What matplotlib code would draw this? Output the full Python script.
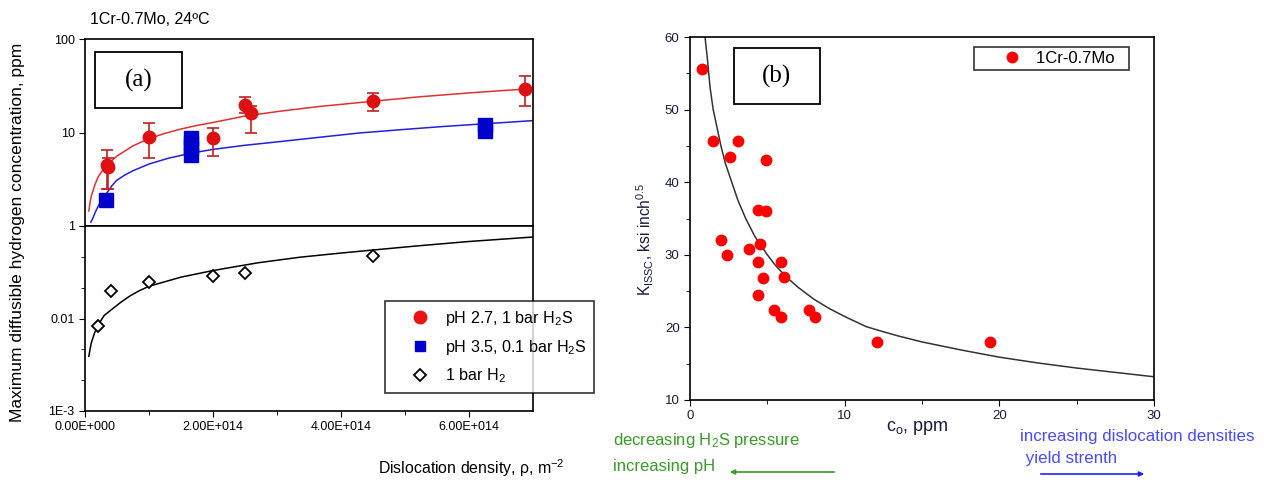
import matplotlib
matplotlib.use("Agg")
import matplotlib.pyplot as plt
from matplotlib.patches import Rectangle
from matplotlib.ticker import FixedLocator, NullLocator, NullFormatter

plt.rcParams['font.family'] = ['Liberation Sans', 'DejaVu Sans']
plt.rcParams['mathtext.default'] = 'regular'

# ---- panel (a) data: dislocation density (m^-2) vs max diffusible H (ppm) ----
red_x = [0.34e14, 0.36e14, 1.0e14, 2.0e14, 2.5e14, 2.6e14, 4.5e14, 6.88e14]
red_y = [4.5, 4.3, 9.0, 8.7, 19.5, 16.0, 21.6, 29.0]
red_lo = [2.0, 1.8, 3.6, 3.1, 3.5, 6.0, 4.7, 10.0]
red_hi = [2.0, 1.0, 3.5, 2.6, 4.5, 3.0, 4.8, 11.6]

blue_x = [0.33e14, 1.65e14, 1.65e14, 1.65e14, 1.65e14, 6.25e14, 6.25e14]
blue_y = [1.9, 5.8, 6.8, 7.8, 8.8, 10.5, 12.0]

h2_x = [0.2e14, 0.41e14, 1.0e14, 2.0e14, 2.5e14, 4.5e14]
h2_y = [0.0082, 0.0197, 0.025, 0.029, 0.031, 0.047]

# fitted curves
red_fit_x = [0.06e14, 0.08e14, 0.1e14, 0.15e14, 0.2e14, 0.27e14, 0.34e14, 0.5e14, 0.75e14,
             1.0e14, 1.25e14, 1.5e14, 1.75e14, 2.0e14, 2.5e14, 3.05e14, 3.67e14, 4.1e14,
             4.5e14, 5.2e14, 6.0e14, 6.5e14, 7.0e14]
red_fit_y = [1.45, 1.8, 2.1, 2.7, 3.3, 3.9, 4.5, 5.6, 7.2, 8.6, 9.8, 10.9, 11.9, 12.8, 15.0,
             16.9, 19.0, 20.3, 21.6, 24.0, 26.5, 28.0, 29.5]

blue_fit_x = [0.09e14, 0.12e14, 0.16e14, 0.2e14, 0.26e14, 0.33e14, 0.42e14, 0.5e14, 0.62e14,
              0.75e14, 1.0e14, 1.3e14, 1.65e14, 2.0e14, 2.5e14, 3.05e14, 3.67e14, 4.3e14,
              5.0e14, 5.6e14, 6.25e14, 7.0e14]
blue_fit_y = [1.1, 1.2, 1.4, 1.6, 1.9, 2.2, 2.7, 3.1, 3.5, 3.9, 4.6, 5.3, 6.0, 6.6, 7.3, 8.0,
              8.9, 9.9, 10.8, 11.6, 12.4, 13.4]

h2_fit_x = [0.06e14, 0.08e14, 0.1e14, 0.15e14, 0.2e14, 0.3e14, 0.44e14, 0.55e14, 0.7e14,
            0.85e14, 1.0e14, 1.25e14, 1.5e14, 2.0e14, 2.7e14, 3.36e14, 4.0e14, 4.5e14,
            5.2e14, 6.0e14, 7.0e14]
h2_fit_y = [0.0039, 0.0047, 0.0055, 0.007, 0.0084, 0.0108, 0.0129, 0.0148, 0.0175, 0.020,
            0.0223, 0.025, 0.028, 0.033, 0.040, 0.046, 0.051, 0.055, 0.061, 0.068, 0.076]

x_ticks = [0, 2e14, 4e14, 6e14]
x_tick_labels = ['0.00E+000', '2.00E+014', '4.00E+014', '6.00E+014']

# ---- panel (b) data: c_o (ppm) vs K_ISSC ----
k_c = [0.8, 1.5, 3.1, 2.6, 4.9, 4.4, 4.9, 2.0, 3.8, 4.5, 2.4, 4.4, 5.9, 4.7, 6.1, 4.4,
       5.4, 5.9, 7.7, 8.1, 12.1, 19.4]
k_val = [55.6, 45.7, 45.7, 43.5, 43.0, 36.2, 36.0, 32.0, 30.8, 31.5, 30.0, 29.0, 29.0,
         26.8, 27.0, 24.4, 22.4, 21.5, 22.4, 21.5, 18.0, 18.0]
k_fit_c = [0.97, 1.1, 1.3, 1.5, 1.75, 2.0, 2.3, 2.7, 3.1, 3.6, 4.2, 5.0, 5.5, 6.2, 7.0, 8.0,
           9.0, 10.0, 11.4, 12.5, 13.5, 15.0, 17.5, 20.0, 22.5, 25.0, 27.5, 30.0]
k_fit_val = [60.0, 57.5, 53.0, 50.0, 47.5, 45.0, 42.5, 40.0, 37.5, 35.0, 32.5, 30.0, 28.6,
             27.0, 25.5, 23.9, 22.6, 21.5, 20.1, 19.4, 18.8, 18.0, 16.9, 15.9, 15.1, 14.4,
             13.8, 13.2]

W, H = 1264, 480
fig = plt.figure(figsize=(W / 100, H / 100), dpi=100)


def fx(px):
    return px / W


def fy(py):
    return 1 - py / H


def label_box(x0, y0, x1, y1, txt):
    fig.add_artist(Rectangle((fx(x0), fy(y1)), fx(x1) - fx(x0), fy(y0) - fy(y1),
                             transform=fig.transFigure, fc='white', ec='black', lw=1.3,
                             zorder=5))
    fig.text(fx((x0 + x1) / 2), fy((y0 + y1) / 2), txt, fontsize=18,
             family='Liberation Serif', ha='center', va='center', zorder=6)


RED = '#dd1111'
BLUE = '#0000cc'

# top half of (a)
ax_t = fig.add_axes([fx(85), fy(226), fx(533) - fx(85), fy(39) - fy(226)])
ax_t.set_yscale('log')
ax_t.set_xlim(0, 7e14)
ax_t.set_ylim(1, 100)
ax_t.plot(red_fit_x, red_fit_y, color='#e03030', lw=1.1)
ax_t.plot(blue_fit_x, blue_fit_y, color='#2020dd', lw=1.1)
ax_t.errorbar(red_x, red_y, yerr=[red_lo, red_hi], fmt='o', color=RED, ecolor='#c02020',
              ms=9, capsize=4, elinewidth=1.2, capthick=1.2, zorder=4)
ax_t.plot(blue_x, blue_y, 's', color=BLUE, ms=9.5, zorder=4)
ax_t.yaxis.set_major_locator(FixedLocator([1, 10, 100]))
ax_t.yaxis.set_minor_locator(NullLocator())
ax_t.set_yticklabels(['1', '10', '100'])
ax_t.set_xticks([])
ax_t.tick_params(axis='y', direction='out', length=4, labelsize=9)

# bottom half of (a)
ax_b = fig.add_axes([fx(85), fy(411), fx(533) - fx(85), fy(226) - fy(411)])
ax_b.set_yscale('log')
ax_b.set_xlim(0, 7e14)
ax_b.set_ylim(1e-3, 1e-1)
ax_b.plot(h2_fit_x, h2_fit_y, color='black', lw=1.1)
ax_b.plot(h2_x, h2_y, 'D', mfc='white', mec='black', mew=1.3, ms=6.5, zorder=4)
ax_b.yaxis.set_major_locator(FixedLocator([1e-3, 1e-2, 1e-1]))
ax_b.set_yticklabels(['1E-3', '0.01', ''])
ax_b.yaxis.set_minor_locator(FixedLocator([10 ** -2.67, 10 ** -2.33, 10 ** -1.67, 10 ** -1.33]))
ax_b.yaxis.set_minor_formatter(NullFormatter())
ax_b.set_xticks(x_ticks)
ax_b.set_xticklabels(x_tick_labels)
ax_b.xaxis.set_minor_locator(FixedLocator([1e14, 3e14, 5e14]))
ax_b.tick_params(axis='both', which='major', direction='out', length=4, labelsize=9)
ax_b.tick_params(axis='both', which='minor', direction='out', length=3)

for a in (ax_t, ax_b):
    for s in a.spines.values():
        s.set_linewidth(1.2)

label_box(95, 52, 182, 108, '(a)')

h1 = ax_t.plot([], [], 'o', color='#ee1111', ms=9)[0]
h2 = ax_t.plot([], [], 's', color=BLUE, ms=7.5)[0]
h3 = ax_b.plot([], [], 'D', mfc='white', mec='black', mew=1.3, ms=6.5)[0]
leg = fig.legend([h1, h2, h3], ['pH 2.7, 1 bar H$_2$S', 'pH 3.5, 0.1 bar H$_2$S', '1 bar H$_2$'],
                 loc='upper left', bbox_to_anchor=(fx(385), fy(301)), fontsize=11.6,
                 frameon=True, fancybox=False, edgecolor='black', borderpad=0.5,
                 handlelength=3.4, handletextpad=-0.2, labelspacing=0.6, borderaxespad=0)
leg.get_frame().set_linewidth(1.2)

fig.text(fx(90), fy(19), '1Cr-0.7Mo, 24ºC', fontsize=11.5, va='center', ha='left')
fig.text(fx(18), fy(232), 'Maximum diffusible hydrogen concentration, ppm', rotation=90,
         fontsize=12.5, va='center', ha='center')
fig.text(fx(378), fy(468), 'Dislocation density, ρ, m$^{-2}$', fontsize=11.4,
         va='center', ha='left')

# panel (b)
ax_r = fig.add_axes([fx(690), fy(400), fx(1154) - fx(690), fy(37) - fy(400)])
ax_r.set_xlim(0, 30)
ax_r.set_ylim(10, 60)
ax_r.plot(k_fit_c, k_fit_val, color='#333333', lw=1.1)
ax_r.plot(k_c, k_val, 'o', color='#ff0000', ms=7.5, label='1Cr-0.7Mo  ', zorder=4)
ax_r.set_xticks([0, 10, 20, 30])
ax_r.xaxis.set_minor_locator(FixedLocator([5, 15, 25]))
ax_r.set_yticks([10, 20, 30, 40, 50, 60])
ax_r.yaxis.set_minor_locator(FixedLocator([15, 25, 35, 45, 55]))
ax_r.tick_params(axis='both', which='major', direction='out', length=4, labelsize=9.5,
                 labelcolor='#1a1a40')
ax_r.tick_params(axis='both', which='minor', direction='out', length=3)
for s in ax_r.spines.values():
    s.set_linewidth(1.2)
lr = ax_r.legend(loc='upper left', bbox_to_anchor=(fx(974), fy(47)),
                 bbox_transform=fig.transFigure, fontsize=12, fancybox=False,
                 edgecolor='black', borderpad=0.25, handlelength=4.0, handletextpad=-0.5,
                 borderaxespad=0)
lr.get_frame().set_linewidth(1.2)

label_box(734, 48, 820, 104, '(b)')

fig.text(fx(917), fy(428), 'c$_o$, ppm', fontsize=13, va='center', ha='center',
         color='#1a1a40')
fig.text(fx(645), fy(239), 'K$_{ISSC}$, ksi inch$^{0.5}$', rotation=90, fontsize=11.2,
         va='center', ha='center', color='#1a1a40')

GREEN = '#3a9a2a'
fig.text(fx(613), fy(440), 'decreasing H$_2$S pressure', color=GREEN, fontsize=12,
         va='center', ha='left')
fig.text(fx(613), fy(467), 'increasing pH', color=GREEN, fontsize=12, va='center',
         ha='left')
ax_r.annotate('', xy=(fx(727), fy(472)), xytext=(fx(837), fy(472)),
              xycoords='figure fraction', textcoords='figure fraction', annotation_clip=False,
              arrowprops=dict(arrowstyle='-|>', color=GREEN, lw=1.2, mutation_scale=7))

PURPLE = '#4a4aff'
fig.text(fx(1020), fy(437), 'increasing dislocation densities', color=PURPLE, fontsize=12.2,
         va='center', ha='left')
fig.text(fx(1021), fy(459), ' yield strenth', color=PURPLE, fontsize=12.2, va='center',
         ha='left')
ax_r.annotate('', xy=(fx(1147), fy(474)), xytext=(fx(1038), fy(474)),
              xycoords='figure fraction', textcoords='figure fraction', annotation_clip=False,
              arrowprops=dict(arrowstyle='-|>', color='#2020ff', lw=1.2, mutation_scale=7))

fig.savefig('out.png', dpi=100)
